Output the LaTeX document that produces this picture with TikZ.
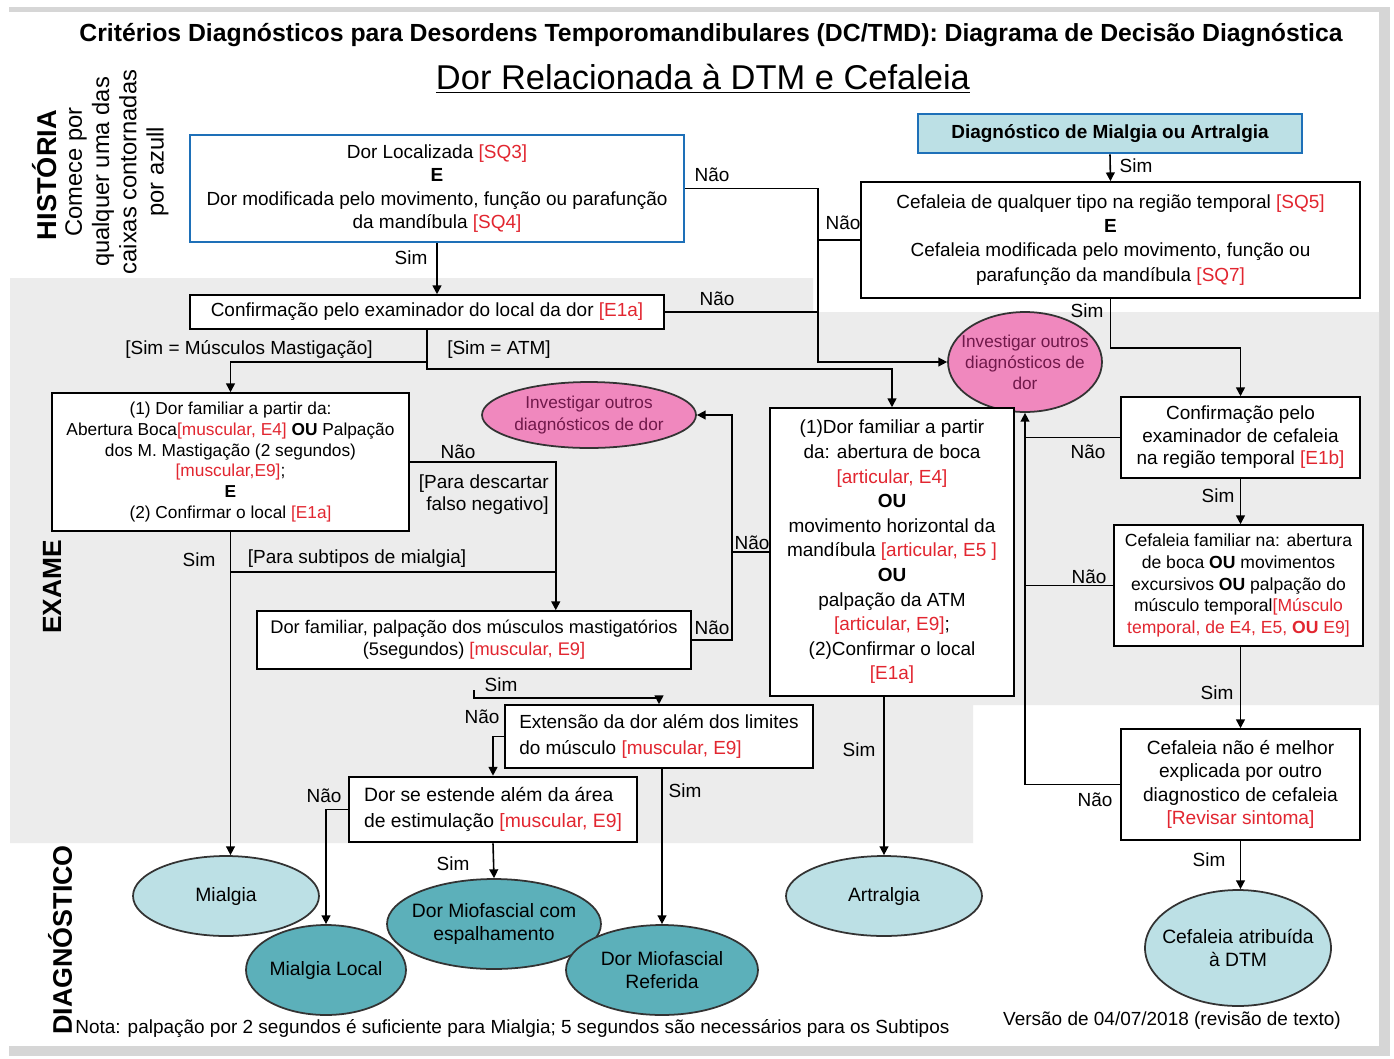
\documentclass[tikz,border=0pt]{standalone}
\usepackage{fontspec}
\setmainfont{Liberation Sans}
\usetikzlibrary{arrows.meta,shapes.geometric,calc}

\definecolor{refred}{RGB}{226,38,48}
\definecolor{boxblue}{RGB}{30,112,184}
\definecolor{lightteal}{RGB}{188,224,229}
\definecolor{darkteal}{RGB}{92,176,186}
\definecolor{pinkfill}{RGB}{240,136,190}
\definecolor{pinktext}{RGB}{112,24,74}
\definecolor{examgray}{RGB}{236,236,236}
\definecolor{framegray}{RGB}{214,214,214}

\newcommand{\rd}[1]{\textcolor{refred}{#1}}

\tikzset{
  box/.style={draw, line width=0.9pt, fill=white, align=center, inner sep=1pt, font=\fontsize{10.8}{13.4}\selectfont},
  bluebox/.style={box, draw=boxblue, line width=1.6pt},
  diagell/.style={ellipse, draw=black!80, line width=1pt, fill=lightteal, align=center, inner xsep=-8pt, inner ysep=0pt, font=\fontsize{11}{13.5}\selectfont},
  pinkell/.style={ellipse, draw=black!80, line width=1pt, fill=pinkfill, text=pinktext, align=center, inner xsep=-8pt, inner ysep=0pt, font=\fontsize{9.8}{12}\selectfont},
  lbl/.style={inner sep=0pt, font=\fontsize{10.8}{12.5}\selectfont},
  conn/.style={line width=0.9pt},
  arr/.style={conn, -{Triangle[length=5pt,width=5pt]}},
  side/.style={rotate=90, align=center, inner sep=0pt},
}

\begin{document}
\begin{tikzpicture}[x=0.02cm, y=-0.02cm]
\useasboundingbox (0,0) rectangle (1394,1059);
\fill[white] (0,0) rectangle (1394,1059);
\fill[framegray] (9,7) rectangle (1390,1056);
\fill[white] (0,12) rectangle (1379,1046);

% exam area
\fill[examgray] (10,278) -- (813,278) -- (813,312) -- (1379,312) -- (1379,705)
  -- (973,705) -- (973,843) -- (10,843) -- cycle;

% titles
\node (title) at (711,35) {\fontsize{14.1}{16}\selectfont\bfseries Critérios Diagnósticos para Desordens Temporomandibulares (DC/TMD): Diagrama de Decisão Diagnóstica};
\node (subtitle) at (703,79) {\fontsize{19.6}{22}\selectfont\underline{Dor Relacionada à DTM e Cefaleia}};

\node[side, font=\fontsize{15.5}{16}\selectfont\bfseries] (hist) at (45,175) {HISTÓRIA};
\node[side, font=\fontsize{13.5}{15.5}\selectfont] (comece) at (117,172) {Comece por\\qualquer uma das\\caixas contornadas\\por azull};
\node[side, font=\fontsize{15}{16}\selectfont\bfseries] (exame) at (52,587) {EXAME};
\node[side, font=\fontsize{15.3}{16}\selectfont\bfseries] (diagn) at (60,940) {DIAGNÓSTICO};

% history boxes
\node[bluebox, minimum width=9.88cm, minimum height=2.14cm] (sq) at (437,188.5)
  {Dor Localizada \rd{[SQ3]}\\\textbf{E}\\Dor modificada pelo movimento, função ou parafunção\\da mandíbula \rd{[SQ4]}};
\node[bluebox, fill=lightteal, minimum width=7.68cm, minimum height=0.78cm, font=\fontsize{10.8}{12}\selectfont\bfseries] (diag) at (1110,133.5)
  {Diagnóstico de Mialgia ou Artralgia};
\node[box, minimum width=9.98cm, minimum height=2.32cm, font=\fontsize{10.8}{13.8}\selectfont] (cef) at (1110.5,240)
  {Cefaleia de qualquer tipo na região temporal \rd{[SQ5]}\\\textbf{E}\\Cefaleia modificada pelo movimento, função ou\\parafunção da mandíbula \rd{[SQ7]}};

% exam boxes
\node[box, minimum width=9.48cm, minimum height=0.68cm] (eia) at (427,312)
  {Confirmação pelo examinador do local da dor \rd{[E1a]}};
\node[box, minimum width=7.14cm, minimum height=2.76cm, font=\fontsize{9.85}{11.8}\selectfont] (musc) at (230.5,462)
  {(1) Dor familiar a partir da:\\Abertura Boca\rd{[muscular, E4]} \textbf{OU} Palpação\\dos M. Mastigação (2 segundos)\\\rd{[muscular,E9]};\\\textbf{E}\\(2) Confirmar o local \rd{[E1a]}};
\node[pinkell, minimum width=4.28cm, minimum height=1.32cm] (inv1) at (589,415)
  {Investigar outros\\diagnósticos de dor};
\node[pinkell, minimum width=3.08cm, minimum height=2.0cm] (inv2) at (1025,362)
  {Investigar outros\\diagnósticos de\\dor};
\node[box, minimum width=8.68cm, minimum height=1.16cm, font=\fontsize{10.4}{12.4}\selectfont] (cinco) at (474,640)
  {Dor familiar, palpação dos músculos mastigatórios\\(5segundos) \rd{[muscular, E9]}};
\node[box, minimum width=4.88cm, minimum height=5.76cm, font=\fontsize{10.8}{14}\selectfont] (atm) at (892,552)
  {(1)Dor familiar a partir\\da: abertura de boca\\\rd{[articular, E4]}\\\textbf{OU}\\movimento horizontal da\\mandíbula \rd{[articular, E5 ]}\\\textbf{OU}\\palpação da ATM\\\rd{[articular, E9]};\\(2)Confirmar o local\\\rd{[E1a]}};
\node[box, minimum width=4.78cm, minimum height=1.62cm, font=\fontsize{10.8}{12.8}\selectfont] (eib) at (1240.5,437.5)
  {Confirmação pelo\\examinador de cefaleia\\na região temporal \rd{[E1b]}};
\node[box, minimum width=4.98cm, minimum height=2.42cm, font=\fontsize{10}{12.3}\selectfont] (cfam) at (1238.5,585.5)
  {Cefaleia familiar na: abertura\\de boca \textbf{OU} movimentos\\excursivos \textbf{OU} palpação do\\músculo temporal\rd{[Músculo}\\\rd{temporal, de E4, E5, \textbf{OU} E9]}};
\node[box, align=left, minimum width=6.16cm, minimum height=1.26cm, font=\fontsize{10.8}{15}\selectfont] (ext) at (659,736.5)
  {Extensão da dor além dos limites\\do músculo \rd{[muscular, E9]}};
\node[box, line width=1.5pt, align=left, minimum width=5.76cm, minimum height=1.3cm, font=\fontsize{11}{15}\selectfont] (est) at (493,809.5)
  {Dor se estende além da área\\de estimulação \rd{[muscular, E9]}};
\node[box, minimum width=4.78cm, minimum height=2.22cm, font=\fontsize{10.9}{13.4}\selectfont] (cnm) at (1240.5,784.5)
  {Cefaleia não é melhor\\explicada por outro\\diagnostico de cefaleia\\\rd{[Revisar sintoma]}};

% diagnoses
\node[diagell, minimum width=3.72cm, minimum height=1.6cm] (mialgia) at (226,896) {Mialgia};
\node[diagell, fill=darkteal, minimum width=3.2cm, minimum height=1.8cm] (mlocal) at (326,970) {Mialgia Local};
\node[diagell, fill=darkteal, minimum width=4.28cm, minimum height=1.8cm] (mesp) at (494,924) {Dor Miofascial com\\espalhamento};
\node[diagell, fill=darkteal, minimum width=3.84cm, minimum height=1.8cm] (mref) at (662,970) {Dor Miofascial\\Referida};
\node[diagell, minimum width=3.92cm, minimum height=1.6cm] (artr) at (884,896) {Artralgia};
\node[diagell, minimum width=3.72cm, minimum height=2.32cm] (cefdtm) at (1238,948) {Cefaleia atribuída\\à DTM};

% connectors, history
\coordinate (naoA) at (818,362);
\draw[arr] (sq.south) -- (sq.south |- eia.north);
\node[lbl] (s1) at (411,258) {Sim};
\draw[arr] (sq.east) -| (naoA) -- (inv2.west);
\node[lbl] (n1) at (712,175) {Não};
\draw[conn] (cef.west) -- (cef.west -| naoA);
\node[lbl] (n2) at (843,223) {Não};
\draw[arr] (diag.south) -- (cef.north);
\node[lbl] (s2) at (1136,166) {Sim};

% connectors, muscle side
\draw[conn] (eia.east) -- (eia.east -| naoA);
\node[lbl] (n3) at (717,299) {Não};
\draw[arr] (eia.south) -- ++(0,39) -| (atm.north);
\draw[arr] ($(eia.south)+(0,32)$) -| (musc.north);
\node[lbl] (lmm) at (249,350) {[Sim = Músculos Mastigação]};
\node[lbl] (latm) at (499,350) {[Sim = ATM]};

\draw[arr] (musc.east) -- ++(146,0) coordinate (dcol) -- (dcol |- cinco.north);
\node[lbl] (n4) at (458,452) {Não};
\node[lbl, anchor=east, align=right] (ldesc) at (549,495) {[Para descartar\\falso negativo]};
\draw[arr] (musc.south) -- (musc.south |- mialgia.north);
\node[lbl] (s3) at (199,560) {Sim};
\draw[conn] (musc.south |- 0,572) -- (dcol |- 0,572);
\node[lbl] (lsub) at (357,559) {[Para subtipos de mialgia]};

\draw[arr] (cinco.east) -- ++(40,0) coordinate (ncol) |- (inv1.east);
\node[lbl] (n5) at (712,628) {Não};
\draw[conn] (atm.west) -- (atm.west -| ncol);
\node[lbl] (n6) at (752,543) {Não};

\coordinate (simA) at (474,690);
\draw[arr] (simA) -- ++(0,8) -| (ext.north);
\node[lbl] (s4) at (501,685) {Sim};
\draw[arr] (ext.west) -| (est.north);
\node[lbl] (n7) at (482,717) {Não};
\draw[arr] (mref.north |- ext.south) -- (mref.north);
\node[lbl] (s5) at (685,791) {Sim};
\draw[arr] (est.west) -| (mlocal.north);
\node[lbl] (n8) at (324,796) {Não};
\draw[arr] (est.south) -- (mesp.north);
\node[lbl] (s6) at (453,864) {Sim};
\draw[arr] (artr.north |- atm.south) -- (artr.north);
\node[lbl] (s7) at (859,750) {Sim};

% connectors, headache side
\draw[arr] (cef.south) -- ++(0,49) -| (eib.north);
\node[lbl] (s8) at (1087,311) {Sim};
\draw[conn] (eib.west) -- (eib.west -| inv2.south);
\node[lbl] (n9) at (1088,452) {Não};
\draw[conn] (cfam.west) -- (cfam.west -| inv2.south);
\node[lbl] (n10) at (1089,577) {Não};
\draw[arr] (cnm.west) -| (inv2.south);
\node[lbl] (n11) at (1095,800) {Não};
\draw[arr] (eib.south) -- (eib.south |- cfam.north);
\node[lbl] (s9) at (1218,496) {Sim};
\draw[arr] (cnm.north |- cfam.south) -- (cnm.north);
\node[lbl] (s10) at (1217,693) {Sim};
\draw[arr] (cnm.south) -- (cnm.south |- cefdtm.north);
\node[lbl] (s11) at (1209,860) {Sim};

% notes
\node[anchor=west, inner sep=0pt, font=\fontsize{10.8}{12}\selectfont] (nota) at (75,1029)
  {Nota: palpação por 2 segundos é suficiente para Mialgia; 5 segundos são necessários para os Subtipos};
\node[inner sep=0pt, font=\fontsize{10.8}{12}\selectfont] (versao) at (1172,1021) {Versão de 04/07/2018 (revisão de texto)};
\end{tikzpicture}
\end{document}
